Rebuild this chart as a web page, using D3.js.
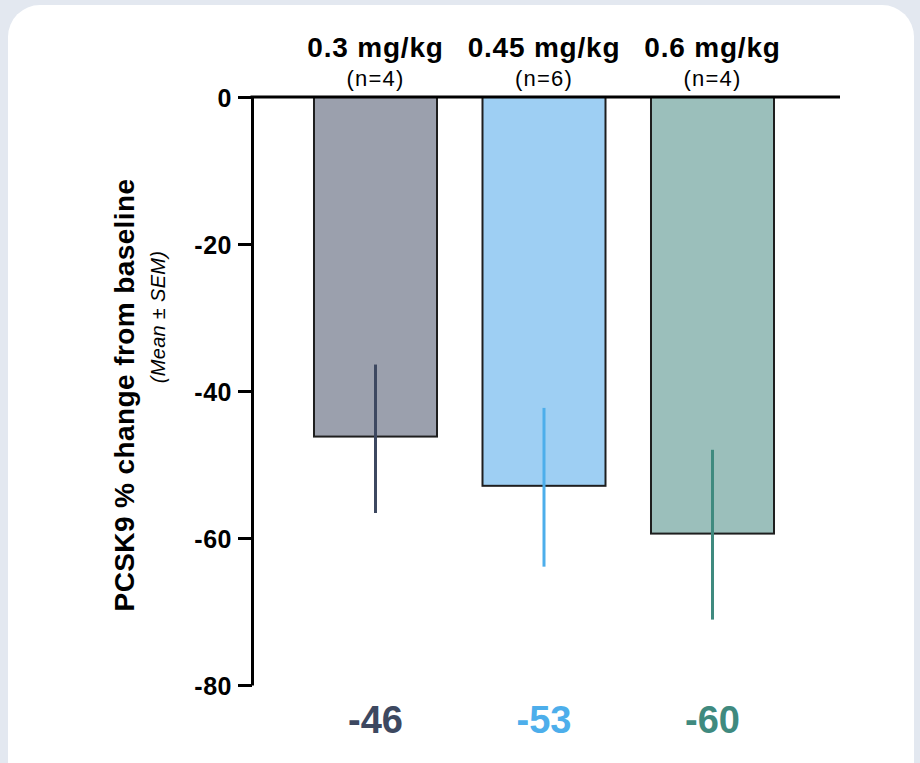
<!DOCTYPE html>
<html>
<head>
<meta charset="utf-8">
<script src="https://cdn.jsdelivr.net/npm/d3@7"></script>
<style>
  html, body { margin: 0; padding: 0; background: #e3e8f0; }
  svg { display: block; }
  text { font-family: "Liberation Sans", Arial, sans-serif; }
</style>
</head>
<body>
<svg id="chart" width="920" height="763"></svg>
<script>
// chart data
const doses = ['0.3 mg/kg', '0.45 mg/kg', '0.6 mg/kg'];
const counts = ['(n=4)', '(n=6)', '(n=4)'];
const means = [-46.2, -52.9, -59.4];
const errHigh = [-36.4, -42.3, -48.0];
const errLow = [-56.6, -63.9, -71.1];
const meanLabels = ['-46', '-53', '-60'];
const yTicks = [0, -20, -40, -60, -80];

const fills = ['#9ba0ad', '#9ecff3', '#9bbfbb'];
const accents = ['#3d4860', '#4daeeb', '#3f8a7f'];

const svg = d3.select('#chart');

// white card
svg.append('rect')
  .attr('x', 8).attr('y', 5)
  .attr('width', 906).attr('height', 790)
  .attr('rx', 32).attr('ry', 32)
  .attr('fill', '#ffffff');

const yScale = d3.scaleLinear().domain([0, -80]).range([97, 685]);
const xScale = d3.scaleBand()
  .domain(doses)
  .range([268.5, 819.5])
  .padding(0.27);

const axisX = 252;
const mid = d => xScale(d) + xScale.bandwidth() / 2;

// bars
svg.selectAll('.bar')
  .data(doses)
  .enter()
  .append('rect')
  .attr('class', 'bar')
  .attr('x', d => xScale(d))
  .attr('y', yScale(0))
  .attr('width', xScale.bandwidth())
  .attr('height', (d, i) => yScale(means[i]) - yScale(0))
  .attr('fill', (d, i) => fills[i])
  .attr('stroke', '#1e1e1e')
  .attr('stroke-width', 2);

// error bars (single vertical lines)
svg.selectAll('.err')
  .data(doses)
  .enter()
  .append('line')
  .attr('class', 'err')
  .attr('x1', mid)
  .attr('x2', mid)
  .attr('y1', (d, i) => yScale(errHigh[i]))
  .attr('y2', (d, i) => yScale(errLow[i]))
  .attr('stroke', (d, i) => accents[i])
  .attr('stroke-width', 3);

// y axis
const yAxis = svg.append('g')
  .attr('transform', `translate(${axisX}, 0)`)
  .call(d3.axisLeft(yScale).tickValues(yTicks).tickSize(14).tickSizeOuter(0).tickPadding(6).tickFormat(d => String(d)));
yAxis.select('.domain').attr('stroke', '#000').attr('stroke-width', 3);
yAxis.selectAll('.tick line').attr('stroke', '#000').attr('stroke-width', 3);
yAxis.selectAll('.tick text')
  .attr('fill', '#000')
  .attr('dy', '0.36em')
  .style('font-size', '25px')
  .style('font-weight', 'bold')
  .style('letter-spacing', '0.5px')
  .style('font-family', '"Liberation Sans", Arial, sans-serif');

// zero baseline
svg.append('line')
  .attr('x1', axisX - 1.5).attr('x2', 840)
  .attr('y1', yScale(0)).attr('y2', yScale(0))
  .attr('stroke', '#000')
  .attr('stroke-width', 3);

// dose headers
svg.selectAll('.dose')
  .data(doses)
  .enter()
  .append('text')
  .attr('class', 'dose')
  .attr('x', mid)
  .attr('y', 57)
  .attr('text-anchor', 'middle')
  .style('font-size', '28px')
  .style('font-weight', 'bold')
  .style('letter-spacing', '0.8px')
  .attr('fill', '#000')
  .text(d => d);

svg.selectAll('.count')
  .data(counts)
  .enter()
  .append('text')
  .attr('class', 'count')
  .attr('x', (d, i) => mid(doses[i]))
  .attr('y', 86)
  .attr('text-anchor', 'middle')
  .style('font-size', '22px')
  .style('letter-spacing', '1.2px')
  .attr('fill', '#000')
  .text(d => d);

// mean labels under the chart
svg.selectAll('.meanLabel')
  .data(meanLabels)
  .enter()
  .append('text')
  .attr('class', 'meanLabel')
  .attr('x', (d, i) => mid(doses[i]))
  .attr('y', 733)
  .attr('text-anchor', 'middle')
  .style('font-size', '38px')
  .style('font-weight', 'bold')
  .attr('fill', (d, i) => accents[i])
  .text(d => d);

// y axis title
svg.append('text')
  .attr('transform', 'translate(134, 395) rotate(-90)')
  .attr('text-anchor', 'middle')
  .style('font-size', '28px')
  .style('font-weight', 'bold')
  .style('letter-spacing', '0.4px')
  .attr('fill', '#000')
  .text('PCSK9 % change from baseline');

svg.append('text')
  .attr('transform', 'translate(165, 317) rotate(-90)')
  .attr('text-anchor', 'middle')
  .style('font-size', '20px')
  .style('font-style', 'italic')
  .style('letter-spacing', '0.3px')
  .attr('fill', '#000')
  .text('(Mean ± SEM)');
</script>
</body>
</html>
